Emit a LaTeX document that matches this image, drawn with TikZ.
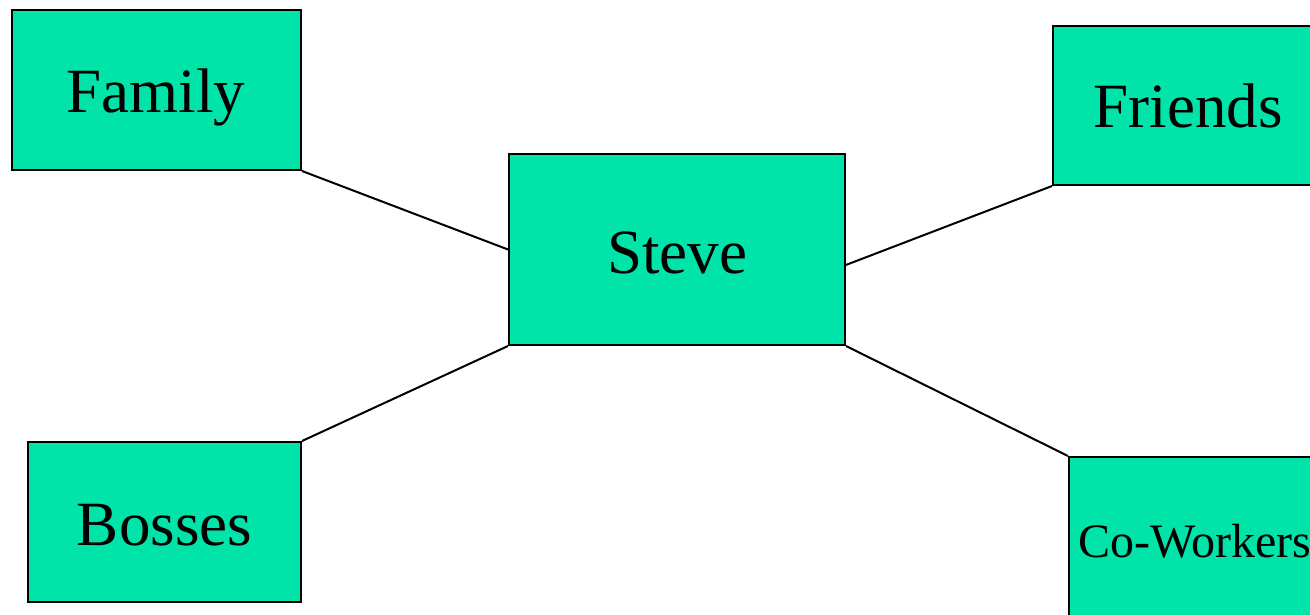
\documentclass[tikz,border=0pt]{standalone}
\usepackage{fontspec}
\setmainfont{Liberation Serif}
\usetikzlibrary{calc}
\definecolor{boxgreen}{RGB}{0,228,170}
\begin{document}
\begin{tikzpicture}[x=1pt,y=-1pt,
  box/.style={draw=black, fill=boxgreen, line width=2pt, rectangle, inner sep=0pt, anchor=north west},
  lbl/.style={inner sep=0pt, anchor=base, font=\fontsize{63}{70}\selectfont},
  small/.style={inner sep=0pt, anchor=base west, font=\fontsize{48}{54}\selectfont},
  link/.style={draw=black, line width=2pt}]
\clip (0,0) rectangle (1310,615);
\fill[white] (0,0) rectangle (1310,615);
% boxes
\node[box, minimum width=289pt, minimum height=160pt] (family) at (11,9) {};
\node[box, minimum width=336pt, minimum height=191pt] (steve) at (508,153) {};
\node[box, minimum width=290pt, minimum height=159pt] (friends) at (1052,25) {};
\node[box, minimum width=273pt, minimum height=160pt] (bosses) at (27,441) {};
\node[box, minimum width=290pt, minimum height=170pt] (cowork) at (1068,456) {};
% labels
\node[lbl] (tfamily) at (156,113) {Family};
\node[lbl] (tsteve) at (677,273) {Steve};
\node[lbl] (tfriends) at (1188,128) {Friends};
\node[lbl] (tbosses) at (164.5,545) {Bosses};
\node[small] (tcowork) at (1078,557) {Co-Workers};
% connectors
\coordinate (steveR) at ($(steve.north east)!0.58!(steve.south east)$);
\path[link] (family.south east) -- (steve.west);
\path[link] (bosses.north east) -- (steve.south west);
\path[link] (steveR) -- (friends.south west);
\path[link] (steve.south east) -- (cowork.north west);
\end{tikzpicture}
\end{document}
